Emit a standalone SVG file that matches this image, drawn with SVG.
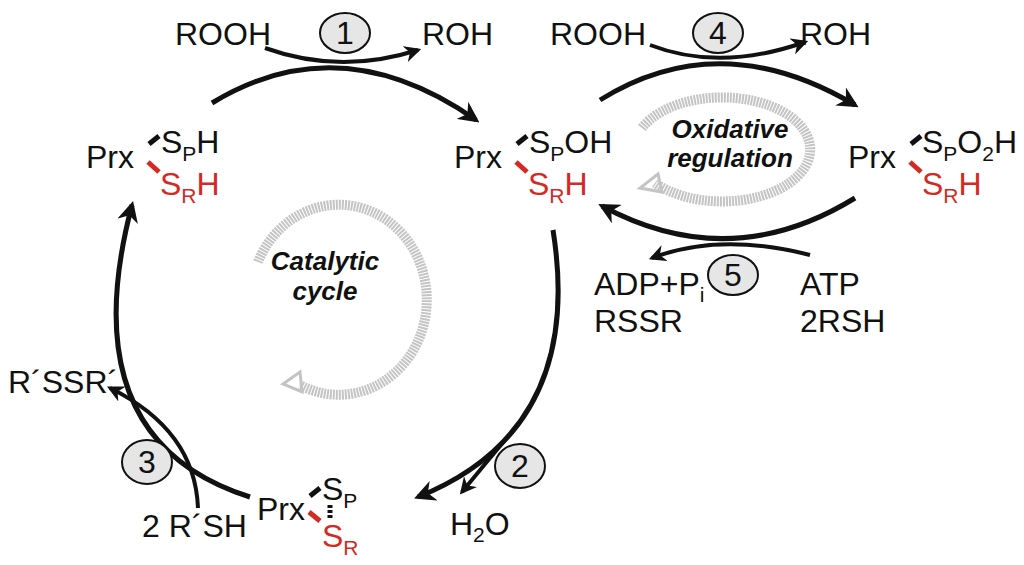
<svg xmlns="http://www.w3.org/2000/svg" width="1024" height="565" viewBox="0 0 1024 565">
<defs>
<marker id="ah" viewBox="0 0 10 10" refX="8" refY="5" markerWidth="4.2" markerHeight="4.2" orient="auto"><path d="M0,0 L10,5 L0,10 L3,5 Z" fill="#111"/></marker>
<style>
text{font-family:"Liberation Sans",Arial,sans-serif;font-size:32px;fill:#111}
.r{fill:#d42a24}
.s{font-size:21px}
.it{font-style:italic;font-weight:bold;font-size:26px}
.c{fill:none;stroke:#111;stroke-width:5}
.t{fill:none;stroke:#111;stroke-width:4}
.g{fill:none;stroke:#c4c4c4;stroke-width:10;stroke-dasharray:2 1}
.n{fill:#e6e6e6;stroke:#111;stroke-width:2}
.b{stroke:#111;stroke-width:5}
.br{stroke:#d42a24;stroke-width:5}
</style>
</defs>
<g id="connectors">
<path class="c" d="M212,103 Q340,25 476,120" marker-end="url(#ah)"/>
<path class="t" d="M265,48 Q340,75 418,50" marker-end="url(#ah)"/>
<path class="c" d="M600,100 Q720,25 855,105" marker-end="url(#ah)"/>
<path class="t" d="M650,45 Q720,72 805,42" marker-end="url(#ah)"/>
<path class="c" d="M855,198 Q730,275 602,206" marker-end="url(#ah)"/>
<path class="t" d="M810,255 Q720,232 652,258" marker-end="url(#ah)"/>
<path class="c" d="M553,230 Q585,430 418,497" marker-end="url(#ah)"/>
<path class="t" d="M505,440 Q480,470 462,492" marker-end="url(#ah)"/>
<path class="c" d="M250,497 Q70,440 132,205" marker-end="url(#ah)"/>
<path class="t" d="M198,508 Q195,430 110,388" marker-end="url(#ah)"/>
<path class="g" d="M258,262 A88,95 0 1 1 300,385"/>
<path d="M300,372 L283,384 L302,392 Z" fill="none" stroke="#c4c4c4" stroke-width="3"/>
<path class="g" d="M642,128 A88,52 0 1 1 655,183"/>
<path d="M658,174 L640,188 L662,192 Z" fill="none" stroke="#c4c4c4" stroke-width="3"/>
</g>
<g id="num1"><ellipse class="n" cx="345" cy="33" rx="25" ry="20"/><text x="345" y="44" text-anchor="middle">1</text></g>
<g id="num4"><ellipse class="n" cx="718" cy="33" rx="25" ry="20"/><text x="718" y="44" text-anchor="middle">4</text></g>
<g id="num5"><ellipse class="n" cx="733" cy="275" rx="25" ry="20"/><text x="733" y="286" text-anchor="middle">5</text></g>
<g id="num2"><ellipse class="n" cx="520" cy="466" rx="25" ry="22"/><text x="520" y="477" text-anchor="middle">2</text></g>
<g id="num3"><ellipse class="n" cx="147" cy="462" rx="25" ry="22"/><text x="147" y="473" text-anchor="middle">3</text></g>
<g id="labels">
<text x="175" y="45">ROOH</text><text x="422" y="45">ROH</text>
<text x="550" y="45">ROOH</text><text x="800" y="45">ROH</text>
<text x="594" y="295">ADP+P<tspan class="s" dy="7">i</tspan></text>
<text x="594" y="332">RSSR</text>
<text x="800" y="295">ATP</text><text x="800" y="332">2RSH</text>
<text x="8" y="393">R´SSR´</text>
<text x="142" y="537">2 R´SH</text>
<text x="450" y="535">H<tspan class="s" dy="7">2</tspan><tspan dy="-7">O</tspan></text>
<text class="it" x="325" y="270" text-anchor="middle">Catalytic</text>
<text class="it" x="325" y="300" text-anchor="middle">cycle</text>
<text class="it" x="730" y="138" text-anchor="middle">Oxidative</text>
<text class="it" x="730" y="167" text-anchor="middle">regulation</text>
</g>
<g id="prx1"><text x="86" y="168">Prx</text><line class="b" x1="149" y1="144" x2="159" y2="136"/><line class="br" x1="148" y1="162" x2="159" y2="172"/><text x="161" y="153">S<tspan class="s" dy="8">P</tspan><tspan dy="-8">H</tspan></text><text class="r" x="160" y="195">S<tspan class="s r" dy="8">R</tspan><tspan dy="-8">H</tspan></text></g>
<g id="prx2"><text x="454" y="168">Prx</text><line class="b" x1="517" y1="144" x2="527" y2="136"/><line class="br" x1="516" y1="162" x2="527" y2="172"/><text x="529" y="153">S<tspan class="s" dy="8">P</tspan><tspan dy="-8">OH</tspan></text><text class="r" x="528" y="195">S<tspan class="s r" dy="8">R</tspan><tspan dy="-8">H</tspan></text></g>
<g id="prx3"><text x="848" y="168">Prx</text><line class="b" x1="911" y1="144" x2="921" y2="136"/><line class="br" x1="910" y1="162" x2="921" y2="172"/><text x="922" y="153">S<tspan class="s" dy="8">P</tspan><tspan dy="-8">O</tspan><tspan class="s" dy="8">2</tspan><tspan dy="-8">H</tspan></text><text class="r" x="922" y="195">S<tspan class="s r" dy="8">R</tspan><tspan dy="-8">H</tspan></text></g>
<g id="prx4"><text x="257" y="520">Prx</text><line class="b" x1="310" y1="496" x2="320" y2="488"/><line class="br" x1="309" y1="512" x2="320" y2="521"/><line x1="330" y1="505" x2="330" y2="519" stroke="#111" stroke-width="5" stroke-dasharray="3 2"/><text x="322" y="500">S<tspan class="s" dy="8">P</tspan></text><text class="r" x="322" y="547">S<tspan class="s r" dy="8">R</tspan></text></g>
</svg>
